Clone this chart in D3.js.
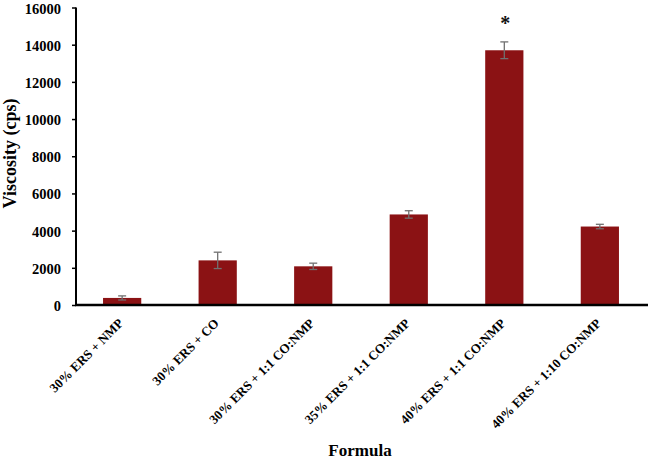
<!DOCTYPE html>
<html>
<head>
<meta charset="utf-8">
<script src="https://cdn.jsdelivr.net/npm/d3@7"></script>
<style>
  html, body { margin: 0; padding: 0; background: #fff; }
  svg text { font-family: "Liberation Serif", "Times New Roman", serif; font-weight: bold; }
</style>
</head>
<body>
<svg id="chart" width="650" height="459"></svg>
<script>
const categories = [
  "30% ERS + NMP",
  "30% ERS + CO",
  "30% ERS + 1:1 CO:NMP",
  "35% ERS + 1:1 CO:NMP",
  "40% ERS + 1:1 CO:NMP",
  "40% ERS + 1:10 CO:NMP"
];
const viscosity = [380, 2400, 2080, 4870, 13700, 4220];
const errors = [110, 440, 170, 200, 450, 120];
const significance = ["", "", "", "", "*", ""];
const yTicks = [0, 2000, 4000, 6000, 8000, 10000, 12000, 14000, 16000];

(function () {
const svg = d3.select("#chart");
const mLeft = 76, mRight = 648, mTop = 7.5, mBottom = 305;

const x = d3.scaleBand().domain(categories).range([mLeft, 646]).paddingInner(0.6).paddingOuter(0.283);
const y = d3.scaleLinear().domain([0, 16000]).range([mBottom, mTop]);

// bars
svg.append("g").selectAll("rect").data(categories).join("rect")
  .attr("x", d => x(d))
  .attr("y", (d, i) => y(viscosity[i]))
  .attr("width", x.bandwidth())
  .attr("height", (d, i) => y(0) - y(viscosity[i]))
  .attr("fill", "#8b1214");

// error bars
const eg = svg.append("g").attr("stroke", "#707070").attr("stroke-width", 1.3);
categories.forEach((c, i) => {
  const cx = x(c) + x.bandwidth() / 2;
  const y1 = y(viscosity[i] + errors[i]), y2 = y(viscosity[i] - errors[i]);
  eg.append("line").attr("x1", cx).attr("x2", cx).attr("y1", y1).attr("y2", y2);
  eg.append("line").attr("x1", cx - 4).attr("x2", cx + 4).attr("y1", y1).attr("y2", y1);
  eg.append("line").attr("x1", cx - 4).attr("x2", cx + 4).attr("y1", y2).attr("y2", y2);
  if (significance[i]) {
    svg.append("text").attr("x", cx + 1).attr("y", y1 - 12)
      .attr("text-anchor", "middle").attr("font-size", 20).attr("fill", "#111")
      .text(significance[i]);
  }
});

// y axis
const yAxis = svg.append("g").attr("transform", `translate(${mLeft},0)`)
  .call(d3.axisLeft(y).tickValues(yTicks).tickSize(4).tickPadding(11).tickFormat(d3.format("d")));
yAxis.select(".domain").attr("stroke", "#000").attr("stroke-width", 2).attr("d", `M0,${mTop}V${mBottom}`);
yAxis.selectAll(".tick line").attr("stroke", "#000").attr("stroke-width", 1.5);
yAxis.selectAll(".tick text").attr("font-size", 14.5).attr("fill", "#000")
  .attr("dy", "0.38em")
  .style("font-family", '"Liberation Serif", serif').style("font-weight", "bold");

// x axis
const xAxis = svg.append("g").attr("transform", `translate(0,${mBottom})`)
  .call(d3.axisBottom(x).tickSize(0).tickPadding(0));
xAxis.select(".domain").attr("stroke", "#000").attr("stroke-width", 2.5).attr("d", `M${mLeft - 1},0H${mRight}`);
xAxis.selectAll(".tick text")
  .attr("font-size", 13).attr("fill", "#000")
  .style("font-family", '"Liberation Serif", serif').style("font-weight", "bold")
  .attr("text-anchor", "end")
  .attr("transform", "translate(2,19) rotate(-45)")
  .attr("dy", 0).attr("y", 0);

// axis titles
svg.append("text").attr("x", 360).attr("y", 456).attr("text-anchor", "middle")
  .attr("font-size", 17).attr("fill", "#000").text("Formula");
svg.append("text").attr("transform", "translate(16,153.5) rotate(-90)").attr("text-anchor", "middle")
  .attr("font-size", 18).attr("fill", "#000").text("Viscosity (cps)");
})();
</script>
</body>
</html>
